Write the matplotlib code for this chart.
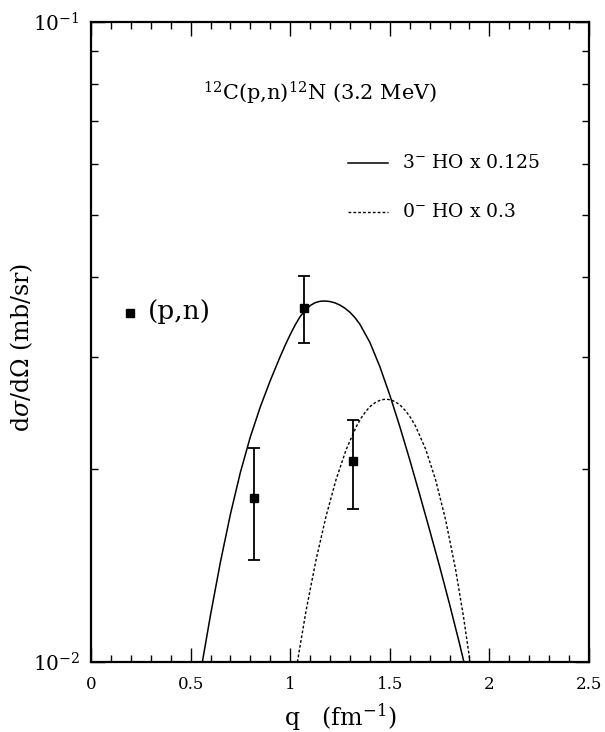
import matplotlib
matplotlib.use("Agg")
import matplotlib.pyplot as plt
from matplotlib.ticker import MultipleLocator, LogLocator, NullFormatter, FixedLocator, FuncFormatter

plt.rcParams['font.family'] = ['DejaVu Serif']
plt.rcParams['mathtext.fontset'] = 'dejavuserif'

# Data points (p,n)
q_data = [0.818, 1.069, 1.317]
xs_data = [0.01803, 0.03578, 0.02063]
err_lo = [0.01442, 0.03150, 0.01734]
err_hi = [0.02163, 0.04009, 0.02388]

# 3- HO x 0.125 (solid)
q_3m = [0.559, 0.60, 0.65, 0.70, 0.75, 0.80, 0.85, 0.90, 0.95, 0.975, 1.00, 1.025, 1.05,
        1.075, 1.10, 1.125, 1.15, 1.175, 1.20, 1.225, 1.25, 1.275, 1.30, 1.325, 1.35,
        1.40, 1.45, 1.50, 1.55, 1.60, 1.65, 1.70, 1.75, 1.80, 1.85, 1.872]
xs_3m = [0.01000, 0.011846, 0.014343, 0.017025, 0.019790, 0.022484, 0.025045, 0.027529,
         0.030018, 0.031267, 0.032471, 0.033628, 0.034650, 0.035456, 0.036049, 0.036425,
         0.036610, 0.036644, 0.036576, 0.036400, 0.036108, 0.035703, 0.035181, 0.034523,
         0.033698, 0.031579, 0.028938, 0.026117, 0.023335, 0.020701, 0.018264, 0.016069,
         0.014103, 0.012310, 0.010678, 0.01000]

# 0- HO x 0.3 (dotted)
q_0m = [1.036, 1.08, 1.13, 1.18, 1.23, 1.28, 1.33, 1.355, 1.38, 1.405, 1.43, 1.455, 1.48,
        1.505, 1.53, 1.555, 1.58, 1.605, 1.63, 1.68, 1.73, 1.78, 1.83, 1.87, 1.903]
xs_0m = [0.01000, 0.012050, 0.014458, 0.016899, 0.019271, 0.021437, 0.023268, 0.024025,
         0.024653, 0.025135, 0.025468, 0.025668, 0.025745, 0.025680, 0.025480, 0.025141,
         0.024670, 0.024064, 0.023335, 0.021502, 0.019249, 0.016686, 0.013959, 0.011761,
         0.01000]

fig = plt.figure(figsize=(6.05, 7.32), dpi=100)
ax = fig.add_axes([0.1504, 0.0956, 0.8232, 0.8744])

ax.plot(q_3m, xs_3m, color='black', lw=1.1)
ax.plot(q_0m, xs_0m, color='black', lw=1.0, linestyle=(0, (2, 1.5)))

yerr = [[v - l for v, l in zip(xs_data, err_lo)], [h - v for v, h in zip(xs_data, err_hi)]]
ax.errorbar(q_data, xs_data, yerr=yerr, fmt='s', color='black', ms=5.5, capsize=4,
            elinewidth=1.3, capthick=1.3)

ax.set_xlim(0, 2.5)
ax.set_yscale('log')
ax.set_ylim(0.01, 0.1)

ax.xaxis.set_major_locator(MultipleLocator(0.5))
ax.xaxis.set_minor_locator(MultipleLocator(0.1))
ax.xaxis.set_major_formatter(FuncFormatter(lambda v, p: '%g' % v))
ax.yaxis.set_major_locator(FixedLocator([0.01, 0.1]))
ax.yaxis.set_major_formatter(FuncFormatter(lambda v, p: r'$10^{-2}$' if v < 0.05 else r'$10^{-1}$'))
ax.yaxis.set_minor_locator(LogLocator(base=10, subs=[2, 3, 4, 5, 6, 7, 8, 9]))
ax.yaxis.set_minor_formatter(NullFormatter())

ax.tick_params(which='both', direction='in', top=True, right=True, width=1.0)
ax.tick_params(which='major', length=10, labelsize=12, pad=10)
ax.tick_params(which='minor', length=5)
ax.tick_params(axis='y', which='major', labelsize=14.5, pad=8)
for s in ax.spines.values():
    s.set_linewidth(1.6)

ax.set_xlabel(r'q   (fm$^{-1}$)', fontsize=17, labelpad=6)
ax.set_ylabel(r'd$\sigma$/d$\Omega$ (mb/sr)', fontsize=17)
ax.yaxis.set_label_coords(-0.1124, 0.492)

ax.text(0.46, 0.889, r'$^{12}$C(p,n)$^{12}$N (3.2 MeV)', transform=ax.transAxes,
        ha='center', va='center', fontsize=15)

ax.plot([0.516, 0.596], [0.78, 0.78], color='black', lw=1.1, transform=ax.transAxes)
ax.text(0.6245, 0.78, r'3$^{-}$ HO x 0.125', transform=ax.transAxes, ha='left', va='center', fontsize=13.5)
ax.plot([0.516, 0.596], [0.703, 0.703], color='black', lw=1.0, linestyle=(0, (2, 1.5)), transform=ax.transAxes)
ax.text(0.6245, 0.703, r'0$^{-}$ HO x 0.3', transform=ax.transAxes, ha='left', va='center', fontsize=13.5)

ax.plot([0.078], [0.545], 's', color='black', ms=5.5, transform=ax.transAxes)
ax.text(0.1145, 0.548, '(p,n)', transform=ax.transAxes, ha='left', va='center', fontsize=19)

fig.savefig('out.png', dpi=100)
